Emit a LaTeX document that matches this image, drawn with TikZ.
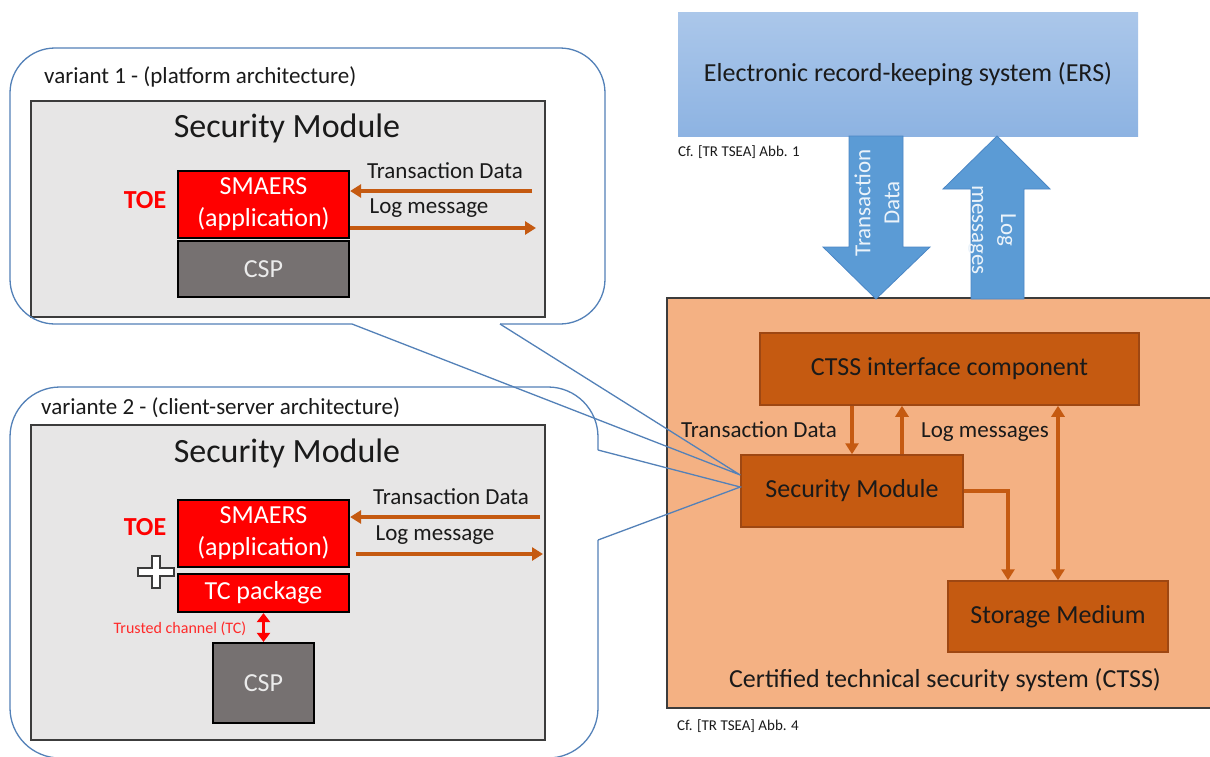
\documentclass[tikz,border=0pt]{standalone}
\usepackage{fontspec}
\setmainfont{Carlito}
\usetikzlibrary{arrows.meta,calc}
\definecolor{smgray}{HTML}{E7E6E6}
\definecolor{boxborder}{HTML}{3C3C3C}
\definecolor{redfill}{HTML}{FF0000}
\definecolor{cspfill}{HTML}{767171}
\definecolor{orangeline}{HTML}{C55A11}
\definecolor{ctssfill}{HTML}{F4B183}
\definecolor{innerfill}{HTML}{C55A11}
\definecolor{innerborder}{HTML}{9E4712}
\definecolor{erstop}{HTML}{ABC7EA}
\definecolor{ersbot}{HTML}{8DB3E2}
\definecolor{bigarrow}{HTML}{5B9BD5}
\definecolor{bigborder}{HTML}{4A86C5}
\definecolor{bubble}{HTML}{5381B8}
\definecolor{txt}{HTML}{1A1A1A}
\definecolor{tcred}{HTML}{FF2A2A}
\tikzset{
 f15/.style={font=\fontsize{15}{18}\selectfont},
 f16/.style={font=\fontsize{16}{19}\selectfont},
 f23/.style={font=\fontsize{23}{29}\selectfont},
 f26/.style={font=\fontsize{26}{32}\selectfont},
 f26b/.style={font=\fontsize{26}{32}\selectfont\bfseries},
 f34/.style={font=\fontsize{34}{40}\selectfont},
 smbox/.style={draw=boxborder, line width=1.8pt, fill=smgray, inner sep=0pt},
 redbox/.style={draw=black, line width=2.2pt, fill=redfill, inner sep=0pt, text=white, align=center, f26},
 cspbox/.style={draw=black, line width=2.2pt, fill=cspfill, inner sep=0pt, text=white!92!black, f26},
 innerbox/.style={draw=innerborder, line width=1.5pt, fill=innerfill, inner sep=0pt, text=txt, f26},
 oarrow/.style={draw=orangeline, line width=3.5pt, -{Triangle[width=13pt,length=11pt]}},
 obiarrow/.style={draw=orangeline, line width=3.5pt, {Triangle[width=13pt,length=11pt]}-{Triangle[width=13pt,length=11pt]}},
 bubbleline/.style={draw=bubble, line width=1.3pt},
 lbl/.style={text=txt, inner sep=0pt},
}
\begin{document}
\begin{tikzpicture}[x=1pt,y=-1pt]
\useasboundingbox[fill=white] (0,0) rectangle (1210,756);

% ---------------- right side: CTSS ----------------
\node[draw=boxborder, line width=1.5pt, fill=ctssfill, minimum width=548pt, minimum height=410pt, inner sep=0pt] (ctss) at (941,503) {};
\node[innerbox, minimum width=379pt, minimum height=72pt] (iface) at (949.5,369) {CTSS interface component};
\node[innerbox, minimum width=222pt, minimum height=72pt] (smr) at (852,491) {Security Module};
\node[innerbox, minimum width=220pt, minimum height=71pt] (stor) at (1058,616.5) {Storage Medium};
\node[lbl, f26] (ctsslbl) at (945,680) {Certified technical security system (CTSS)};
\node[lbl, f23] (tdr) at (759,430) {Transaction Data};
\node[lbl, f23] (lmr) at (985,432) {Log messages};
\node[lbl, f15, anchor=west] (cf4) at (677,726) {Cf. [TR TSEA] Abb. 4};

\draw[oarrow] (iface.south -| smr.north) -- (smr.north);
\draw[oarrow] ([xshift=50pt]smr.north) -- ([xshift=50pt]smr.north |- iface.south);
\draw[oarrow] (smr.east) -| ([xshift=-50pt]stor.north);
\draw[obiarrow] (stor.north) -- (stor.north |- iface.south);

% ---------------- ERS ----------------
\node[top color=erstop, bottom color=ersbot, minimum width=460pt, minimum height=124pt, inner sep=0pt, text=txt, f26] (ers) at (908,74) {Electronic record-keeping system (ERS)};
\node[lbl, f15, anchor=west] (cf1) at (678,152) {Cf. [TR TSEA] Abb. 1};

% big block arrows between ERS and CTSS
\filldraw[fill=bigarrow, draw=bigborder, line width=0.8pt]
  (849,136) -- (903,136) -- (903,247) -- (930,247) -- (876,299) -- (823,247) -- (849,247) -- cycle;
\filldraw[fill=bigarrow, draw=bigborder, line width=0.8pt]
  (997,136) -- (1050,189) -- (1024,189) -- (1024,299) -- (971,299) -- (971,189) -- (943,189) -- cycle;
\node[text=white!88!bigarrow, f23, align=center, rotate=90, inner sep=0pt] (tdbig) at (877,203) {Transaction\\Data};
\node[text=white!88!bigarrow, f23, align=center, rotate=-90, inner sep=0pt] (lmbig) at (992,230) {Log\\messages};

% ---------------- variant 1 ----------------
\node[smbox, minimum width=514pt, minimum height=216pt] (gray1) at (288,209) {};
\node[lbl, f23, anchor=west] (v1lbl) at (44,77) {variant 1 - (platform architecture)};
\node[lbl, f34] (smt1) at (287,128) {Security Module};
\node[redbox, minimum width=171pt, minimum height=67pt] (smaers1) at (263.5,204.5) {SMAERS\\(application)};
\node[cspbox, minimum width=171pt, minimum height=56pt] (csp1) at (263.5,269) {CSP};
\node[text=redfill, f26b, inner sep=0pt] (toe1) at (145,200) {TOE};
\coordinate (td1) at (532,191);
\coordinate (lm1) at (536,228);
\node[lbl, f23] (td1lbl) at (445,171) {Transaction Data};
\node[lbl, f23] (lm1lbl) at (429,208) {Log message};
\draw[oarrow] (td1) -- (td1 -| smaers1.east);
\draw[oarrow] (lm1 -| smaers1.east) -- (lm1);

% ---------------- variant 2 ----------------
\node[smbox, minimum width=514pt, minimum height=315pt] (gray2) at (288,582.5) {};
\node[lbl, f23, anchor=west] (v2lbl) at (41,408) {variante 2 - (client-server architecture)};
\node[lbl, f34] (smt2) at (287,453) {Security Module};
\node[redbox, minimum width=171pt, minimum height=67pt] (smaers2) at (263.5,533.5) {SMAERS\\(application)};
\node[redbox, minimum width=171pt, minimum height=38pt] (tcp) at (263.5,593) {TC package};
\node[cspbox, minimum width=101pt, minimum height=80pt] (csp2) at (263.5,683) {CSP};
\node[text=redfill, f26b, inner sep=0pt] (toe2) at (145,527) {TOE};
\filldraw[fill=white, draw=boxborder, line width=1.4pt]
  (152,556) -- (160,556) -- (160,568) -- (174,568) -- (174,576) -- (160,576) -- (160,588)
  -- (152,588) -- (152,576) -- (138,576) -- (138,568) -- (152,568) -- cycle;
\node[text=tcred, f16, inner sep=0pt] (tclbl) at (180,629) {Trusted channel (TC)};
\draw[draw=redfill, line width=3pt, {Triangle[width=13pt,length=9pt]}-{Triangle[width=13pt,length=9pt]}] (tcp.south) -- (csp2.north);
\coordinate (td2) at (540,517);
\coordinate (lm2) at (543,554);
\node[lbl, f23] (td2lbl) at (451,497) {Transaction Data};
\node[lbl, f23] (lm2lbl) at (435,535) {Log message};
\draw[oarrow] (td2) -- (td2 -| smaers2.east);
\draw[oarrow] ([xshift=6pt]lm2 -| smaers2.east) -- (lm2);

% ---------------- callout bubbles ----------------
\coordinate (apex1) at ([yshift=16pt]smr.west);
\coordinate (apex2) at ([yshift=4pt]smr.west);
\draw[bubbleline, rounded corners=45pt] (500,324) -- (605,324) -- (605,48) -- (10,48) -- (10,324) -- (352,324);
\draw[bubbleline] (500,324) -- (apex1) -- (352,324);
\draw[bubbleline, rounded corners=50pt] (598,540) -- (598,758) -- (10,758) -- (10,387) -- (598,387) -- (598,450);
\draw[bubbleline] (598,450) -- (apex2) -- (598,540);
\end{tikzpicture}
\end{document}
